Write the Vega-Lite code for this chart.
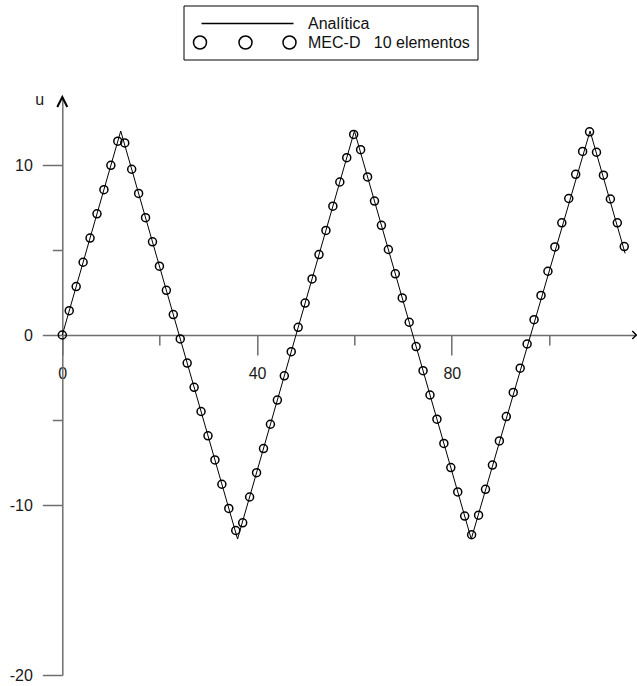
{
  "$schema": "https://vega.github.io/schema/vega-lite/v6.json",
  "width": 574,
  "height": 578,
  "autosize": {"type": "none"},
  "padding": {"left": 62.3, "top": 97, "right": 0.7, "bottom": 11},
  "background": "white",
  "config": {
    "view": {"stroke": null},
    "font": "Liberation Sans",
    "axis": {
      "grid": false,
      "domainColor": "#6e6e6e",
      "domainWidth": 1.5,
      "tickColor": "#6e6e6e",
      "tickWidth": 1.5,
      "labelFont": "Liberation Sans",
      "labelFontSize": 16,
      "labelColor": "#1a1a1a",
      "labelFlush": false,
      "labelOverlap": false,
      "labelExpr": "'' + datum.value"
    }
  },
  "datasets": {
    "analitica": [
      {"t": 0, "u": 0},
      {"t": 12, "u": 12},
      {"t": 36, "u": -12},
      {"t": 60, "u": 12},
      {"t": 84, "u": -12},
      {"t": 108.4, "u": 12},
      {"t": 115.6, "u": 4.8}
    ],
    "mecd": [
      {"t": 0, "u": 0},
      {"t": 1.425, "u": 1.43},
      {"t": 2.85, "u": 2.85},
      {"t": 4.275, "u": 4.28},
      {"t": 5.7, "u": 5.7},
      {"t": 7.125, "u": 7.13},
      {"t": 8.55, "u": 8.55},
      {"t": 9.975, "u": 9.98},
      {"t": 11.4, "u": 11.4},
      {"t": 12.825, "u": 11.3},
      {"t": 14.25, "u": 9.75},
      {"t": 15.675, "u": 8.33},
      {"t": 17.1, "u": 6.9},
      {"t": 18.525, "u": 5.48},
      {"t": 19.95, "u": 4.05},
      {"t": 21.375, "u": 2.63},
      {"t": 22.8, "u": 1.2},
      {"t": 24.225, "u": -0.23},
      {"t": 25.65, "u": -1.65},
      {"t": 27.075, "u": -3.08},
      {"t": 28.5, "u": -4.5},
      {"t": 29.925, "u": -5.93},
      {"t": 31.35, "u": -7.35},
      {"t": 32.775, "u": -8.78},
      {"t": 34.2, "u": -10.2},
      {"t": 35.625, "u": -11.5},
      {"t": 37.05, "u": -11.05},
      {"t": 38.475, "u": -9.53},
      {"t": 39.9, "u": -8.1},
      {"t": 41.325, "u": -6.68},
      {"t": 42.75, "u": -5.25},
      {"t": 44.175, "u": -3.83},
      {"t": 45.6, "u": -2.4},
      {"t": 47.025, "u": -0.98},
      {"t": 48.45, "u": 0.45},
      {"t": 49.875, "u": 1.88},
      {"t": 51.3, "u": 3.3},
      {"t": 52.725, "u": 4.73},
      {"t": 54.15, "u": 6.15},
      {"t": 55.575, "u": 7.58},
      {"t": 57.0, "u": 9.0},
      {"t": 58.425, "u": 10.43},
      {"t": 59.85, "u": 11.8},
      {"t": 61.275, "u": 10.9},
      {"t": 62.7, "u": 9.3},
      {"t": 64.125, "u": 7.88},
      {"t": 65.55, "u": 6.45},
      {"t": 66.975, "u": 5.03},
      {"t": 68.4, "u": 3.6},
      {"t": 69.825, "u": 2.18},
      {"t": 71.25, "u": 0.75},
      {"t": 72.675, "u": -0.68},
      {"t": 74.1, "u": -2.1},
      {"t": 75.525, "u": -3.53},
      {"t": 76.95, "u": -4.95},
      {"t": 78.375, "u": -6.38},
      {"t": 79.8, "u": -7.8},
      {"t": 81.225, "u": -9.23},
      {"t": 82.65, "u": -10.65},
      {"t": 84.075, "u": -11.75},
      {"t": 85.5, "u": -10.6},
      {"t": 86.925, "u": -9.08},
      {"t": 88.35, "u": -7.65},
      {"t": 89.775, "u": -6.23},
      {"t": 91.2, "u": -4.8},
      {"t": 92.625, "u": -3.38},
      {"t": 94.05, "u": -1.95},
      {"t": 95.475, "u": -0.53},
      {"t": 96.9, "u": 0.9},
      {"t": 98.325, "u": 2.33},
      {"t": 99.75, "u": 3.75},
      {"t": 101.175, "u": 5.18},
      {"t": 102.6, "u": 6.6},
      {"t": 104.025, "u": 8.03},
      {"t": 105.45, "u": 9.45},
      {"t": 106.875, "u": 10.8},
      {"t": 108.3, "u": 11.95},
      {"t": 109.725, "u": 10.75},
      {"t": 111.15, "u": 9.4},
      {"t": 112.575, "u": 8.0},
      {"t": 114.0, "u": 6.6},
      {"t": 115.425, "u": 5.2}
    ]
  },
  "resolve": {"axis": {"x": "independent", "y": "independent"}},
  "layer": [
    {
      "data": {"name": "mecd"},
      "mark": {"type": "point", "shape": "circle", "filled": false, "stroke": "#000000", "size": 64, "strokeWidth": 1.5, "opacity": 1},
      "encoding": {
        "x": {
          "field": "t", "type": "quantitative",
          "scale": {"domain": [0, 117.9], "nice": false, "zero": false},
          "axis": {"orient": "bottom", "offset": -340, "values": [0, 40, 80], "tickSize": 20, "labelPadding": 10, "title": null}
        },
        "y": {
          "field": "u", "type": "quantitative",
          "scale": {"domain": [-20, 14], "nice": false, "zero": false},
          "axis": {
            "orient": "left", "values": [10, 0, -10, -20], "tickSize": 20, "labelPadding": 10,
            "title": "u", "titleAngle": 0, "titleX": -23, "titleY": 2, "titleAlign": "center", "titleBaseline": "middle",
            "titleFont": "Liberation Sans", "titleFontSize": 16, "titleFontWeight": "normal", "titleColor": "#1a1a1a"
          }
        }
      }
    },
    {
      "data": {"name": "analitica"},
      "mark": {"type": "line", "stroke": "#000000", "strokeWidth": 1, "interpolate": "linear"},
      "encoding": {
        "x": {
          "field": "t", "type": "quantitative",
          "axis": {"orient": "bottom", "offset": -340, "values": [20, 60, 100], "tickSize": 10, "labels": false, "domain": false, "title": null}
        },
        "y": {
          "field": "u", "type": "quantitative",
          "axis": {"orient": "left", "values": [5, -5], "tickSize": 10, "labels": false, "domain": false, "title": null}
        }
      }
    },
    {
      "data": {"values": []},
      "mark": {"type": "point", "filled": false, "stroke": "#000000", "fill": "transparent", "strokeWidth": 1.5, "opacity": 1},
      "encoding": {
        "shape": {
          "field": "serie", "type": "nominal",
          "scale": {
            "domain": ["Analítica", "MEC-D"],
            "range": [
              "M -4.6 0 L 4.6 0",
              "M -4.1 0 A 0.65 0.65 0 1 1 -5.4 0 A 0.65 0.65 0 1 1 -4.1 0 Z M 0.45 0 A 0.65 0.65 0 1 1 -0.85 0 A 0.65 0.65 0 1 1 0.45 0 Z M 4.85 0 A 0.65 0.65 0 1 1 3.55 0 A 0.65 0.65 0 1 1 4.85 0 Z"
            ]
          },
          "legend": {
            "title": null,
            "orient": "none",
            "legendX": 121.2,
            "legendY": -91.5,
            "strokeColor": "#000000",
            "padding": 7,
            "rowPadding": -4,
            "symbolSize": 400,
            "symbolStrokeWidth": 1.5,
            "symbolOffset": 46,
            "symbolFillColor": "transparent",
            "symbolStrokeColor": "#000000",
            "labelOffset": 49.5,
            "labelFont": "Liberation Sans",
            "labelFontSize": 16,
            "labelColor": "#111111",
            "labelLimit": 400,
            "labelExpr": "datum.value === 'MEC-D' ? 'MEC-D\u00a0\u00a0 10 elementos' : datum.label"
          }
        }
      }
    },
    {
      "data": {"values": [{}]},
      "mark": {"type": "point", "shape": "M -0.5 1 L 0 0 L 0.5 1", "size": 400, "filled": false, "stroke": "#000000", "strokeWidth": 2, "opacity": 1},
      "encoding": {
        "x": {"datum": 0, "type": "quantitative", "axis": null},
        "y": {"datum": 14, "type": "quantitative", "axis": null}
      }
    },
    {
      "data": {"values": [{}]},
      "mark": {"type": "point", "shape": "M -1 -1 L 0 0 L -1 1", "size": 64, "filled": false, "stroke": "#000000", "strokeWidth": 1.5, "opacity": 1},
      "encoding": {
        "x": {"datum": 117.9, "type": "quantitative", "axis": null},
        "y": {"datum": 0, "type": "quantitative", "axis": null}
      }
    }
  ]
}
